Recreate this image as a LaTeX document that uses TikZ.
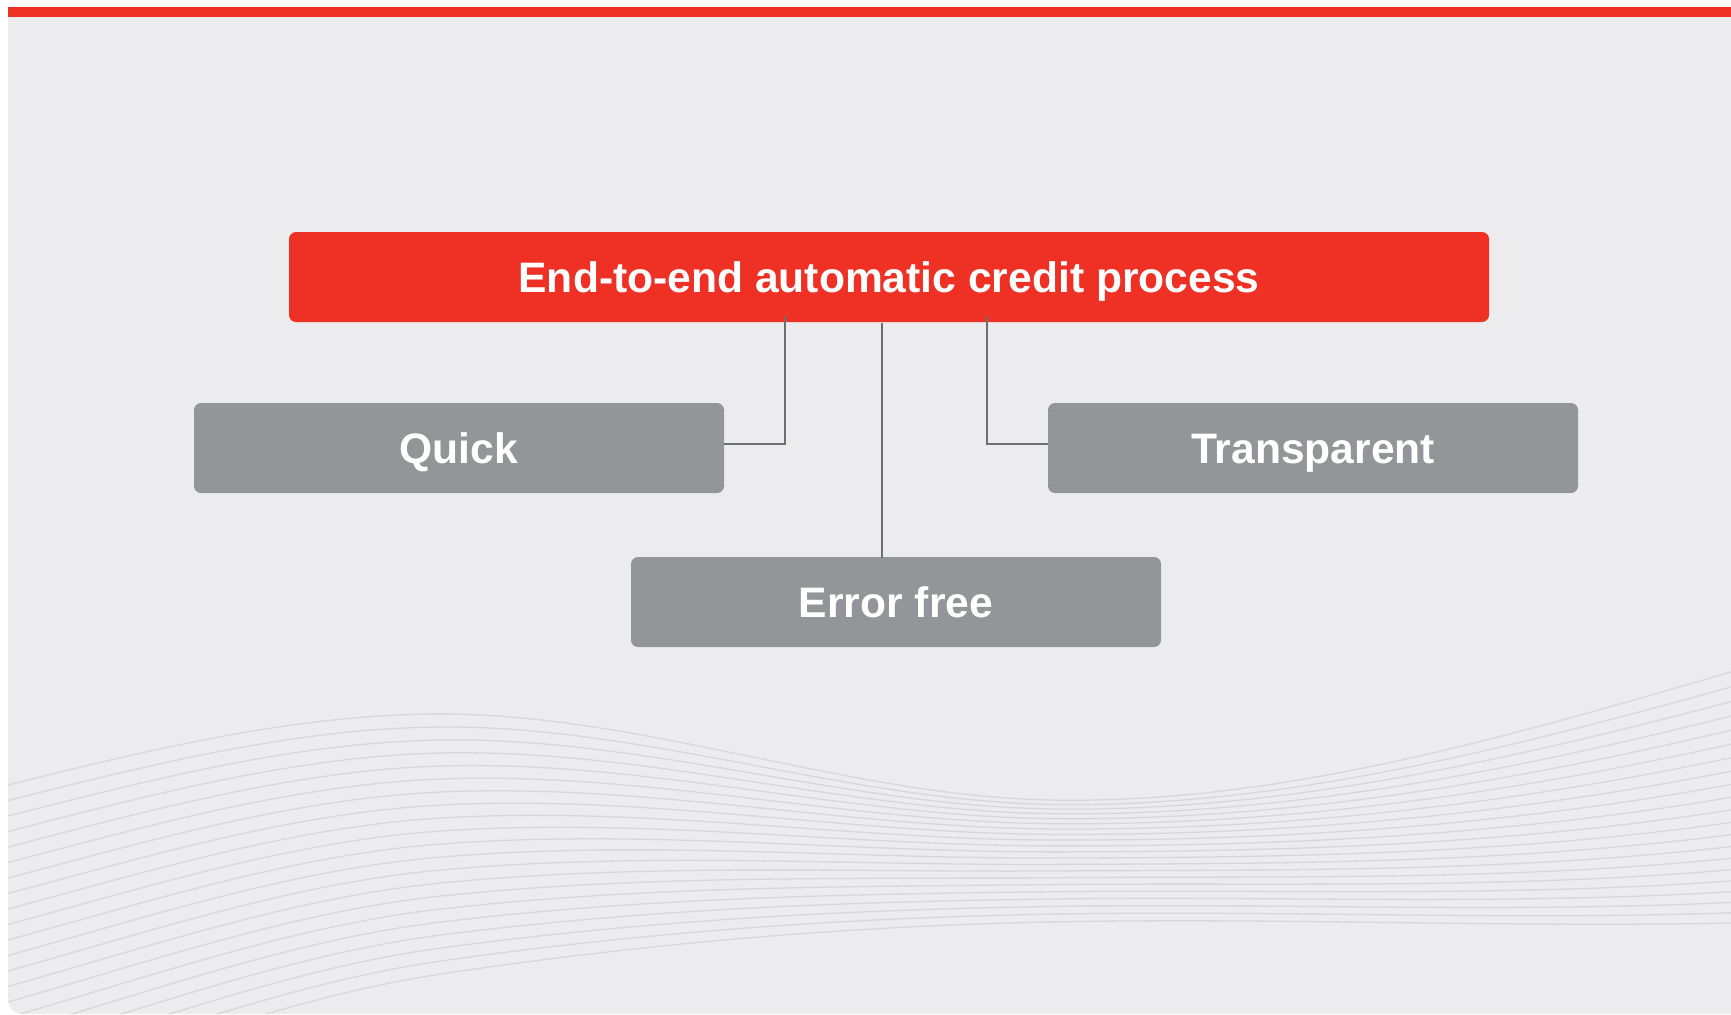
\documentclass[tikz,border=0pt]{standalone}
\usepackage{fontspec}
\setmainfont{Liberation Sans}
\definecolor{panelbg}{RGB}{236,236,238}
\definecolor{brandred}{RGB}{238,49,36}
\definecolor{boxgrey}{RGB}{147,149,152}
\definecolor{conngrey}{RGB}{109,110,113}
\definecolor{wavegrey}{RGB}{215,215,218}
\begin{document}
\begin{tikzpicture}[x=0.5pt,y=-0.5pt,
  boxtext/.style={text=white,inner sep=0pt,text height=15.3pt,text depth=0pt,font=\bfseries\fontsize{21.3}{25}\selectfont},
  titlebox/.style={boxtext,fill=brandred,rounded corners=3.5pt,minimum width=600pt,minimum height=45pt},
  itembox/.style={boxtext,fill=boxgrey,rounded corners=3.5pt,minimum width=265pt,minimum height=45pt},
  conn/.style={draw=conngrey,line width=1pt},
  wave/.style={draw=wavegrey,line width=0.65pt}]
\useasboundingbox (0,0) rectangle (1731,1014);
\fill[white] (0,0) rectangle (1731,1014);
\fill[panelbg] (1731,7) -- (8,7) [rounded corners=7.5pt] -- (8,1014) [sharp corners] -- (1731,1014) -- cycle;
\fill[brandred] (8,7) rectangle (1731,17);
\begin{scope}
\clip (1731,17) -- (8,17) [rounded corners=7.5pt] -- (8,1014) [sharp corners] -- (1731,1014) -- cycle;
\foreach \i in {0,...,20}{
  \pgfmathsetmacro\t{\i/20}
  \pgfmathsetmacro\yL{785+310*\t}
  \pgfmathsetmacro\sL{-0.25-0.05*\t}
  \pgfmathsetmacro\yA{714+260*\t}
  \pgfmathsetmacro\sA{-0.15*\t}
  \pgfmathsetmacro\yM{800+122*(0.7*\t+0.3*\t*\t)}
  \pgfmathsetmacro\sM{0.02-0.04*\t}
  \pgfmathsetmacro\yR{672+251*(1.2*\t-0.2*\t*\t)}
  \pgfmathsetmacro\sR{-0.29+0.27*\t}
  \draw[wave] (8,\yL) .. controls (152.3,{\yL+\sL*144.3}) and (296.7,{\yA-\sA*144.3}) .. (441,\yA)
     .. controls (644,{\yA+\sA*203}) and (847,{\yM-\sM*203}) .. (1050,\yM)
     .. controls (1277,{\yM+\sM*227}) and (1504,{\yR-\sR*227}) .. (1731,\yR);
}
\end{scope}
\node[titlebox] (title) at (889,277) {End-to-end automatic credit process};
\node[itembox] (quick) at (459,448) {Quick};
\node[itembox] (transp) at (1313,448) {Transparent};
\node[itembox] (errfree) at (896,602) {Error free};
\draw[conn] ([xshift=-52pt,yshift=3pt]title.south) |- ([yshift=2pt]quick.east);
\draw[conn] ([xshift=49pt,yshift=3pt]title.south) |- ([yshift=2pt]transp.west);
\draw[conn] ([xshift=-3.5pt,yshift=-0.5pt]title.south) -- ([xshift=-3.5pt,yshift=-0.5pt]title.south |- errfree.north);
\end{tikzpicture}
\end{document}
